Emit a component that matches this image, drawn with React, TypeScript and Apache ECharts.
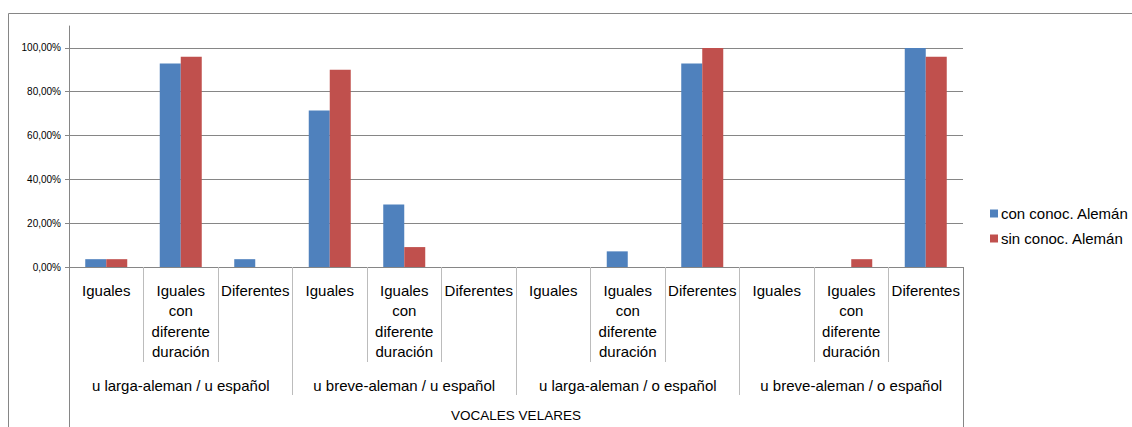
import React, { useEffect, useRef } from "react";
import * as echarts from "echarts";

const categories = [
  "Iguales", "Iguales\ncon\ndiferente\nduración", "Diferentes",
  "Iguales", "Iguales\ncon\ndiferente\nduración", "Diferentes",
  "Iguales", "Iguales\ncon\ndiferente\nduración", "Diferentes",
  "Iguales", "Iguales\ncon\ndiferente\nduración", "Diferentes",
];
const groups = [
  "u larga-aleman / u español",
  "u breve-aleman / u español",
  "u larga-aleman / o español",
  "u breve-aleman / o español",
];
const axisTitle = "VOCALES VELARES";
const seriesNames = ["con conoc. Alemán", "sin conoc. Alemán"];
const conConoc = [0.0357, 0.9286, 0.0357, 0.7143, 0.2857, 0, 0, 0.0714, 0.9286, 0, 0, 1.0];
const sinConoc = [0.0357, 0.96, 0, 0.9, 0.0909, 0, 0, 0, 1.0, 0, 0.0357, 0.96];

const FONT = "Liberation Sans, Arial, sans-serif";
const AXIS = "#868686";
const SEP = "#bcbcbc";

export default function App() {
  const ref = useRef<HTMLDivElement>(null);
  useEffect(() => {
    const chart = echarts.init(ref.current!, null, { renderer: "svg" });
    chart.setOption({
      animation: false,
      backgroundColor: "#ffffff",
      textStyle: { fontFamily: FONT, color: "#000" },
      grid: { left: 69, right: 169, top: 26, bottom: 160, containLabel: false },
      legend: {
        orient: "vertical",
        left: 985,
        top: 201,
        icon: "rect",
        itemWidth: 8,
        itemHeight: 8,
        itemGap: 10,
        textStyle: { fontFamily: FONT, fontSize: 15, color: "#000", padding: [0, 0, 0, -2] },
        data: seriesNames,
      },
      xAxis: [
        {
          type: "category",
          data: categories,
          position: "bottom",
          axisLine: { show: true, lineStyle: { color: AXIS } },
          axisTick: { show: true, interval: 0, length: 95, lineStyle: { color: SEP } },
          axisLabel: {
            interval: 0,
            margin: 13,
            fontFamily: FONT,
            fontSize: 15,
            lineHeight: 20.5,
            color: "#000",
          },
          name: axisTitle,
          nameLocation: "middle",
          nameGap: 141,
          nameTextStyle: { fontFamily: FONT, fontSize: 13.5, color: "#000" },
        },
        {
          type: "category",
          data: groups,
          position: "bottom",
          axisLine: { show: false },
          axisTick: { show: true, interval: 0, length: 128, lineStyle: { color: SEP } },
          axisLabel: {
            interval: 0,
            margin: 108,
            fontFamily: FONT,
            fontSize: 15,
            lineHeight: 20,
            color: "#000",
          },
        },
        {
          type: "category",
          data: [""],
          position: "bottom",
          axisLine: { show: false },
          axisTick: { show: true, length: 160, lineStyle: { color: AXIS } },
          axisLabel: { show: false },
        },
      ],
      yAxis: {
        type: "value",
        min: 0,
        max: 1.1,
        interval: 0.2,
        axisLine: { show: true, lineStyle: { color: AXIS } },
        axisTick: { show: true, length: 4, lineStyle: { color: AXIS } },
        axisLabel: {
          showMaxLabel: false,
          margin: 8,
          fontFamily: FONT,
          fontSize: 10,
          color: "#000",
          formatter: (v: number) => (v * 100).toFixed(2).replace(".", ",") + "%",
        },
        splitLine: { show: true, showMaxLine: false, lineStyle: { color: AXIS } },
      },
      series: [
        {
          name: seriesNames[0],
          type: "bar",
          xAxisIndex: 0,
          data: conConoc,
          barWidth: 21,
          barGap: "0%",
          itemStyle: { color: "#4f81bd" },
        },
        {
          name: seriesNames[1],
          type: "bar",
          xAxisIndex: 0,
          data: sinConoc,
          barWidth: 21,
          barGap: "0%",
          itemStyle: { color: "#c0504d" },
        },
      ],
      graphic: [
        { type: "line", shape: { x1: 8.5, y1: 13.5, x2: 1132, y2: 13.5 }, style: { stroke: AXIS, lineWidth: 1 } },
        { type: "line", shape: { x1: 8.5, y1: 13.5, x2: 8.5, y2: 427 }, style: { stroke: AXIS, lineWidth: 1 } },
      ],
    });
    return () => chart.dispose();
  }, []);
  return (
    <div
      ref={ref}
      style={{ position: "fixed", left: 0, top: 0, width: 1132, height: 427 }}
    />
  );
}
